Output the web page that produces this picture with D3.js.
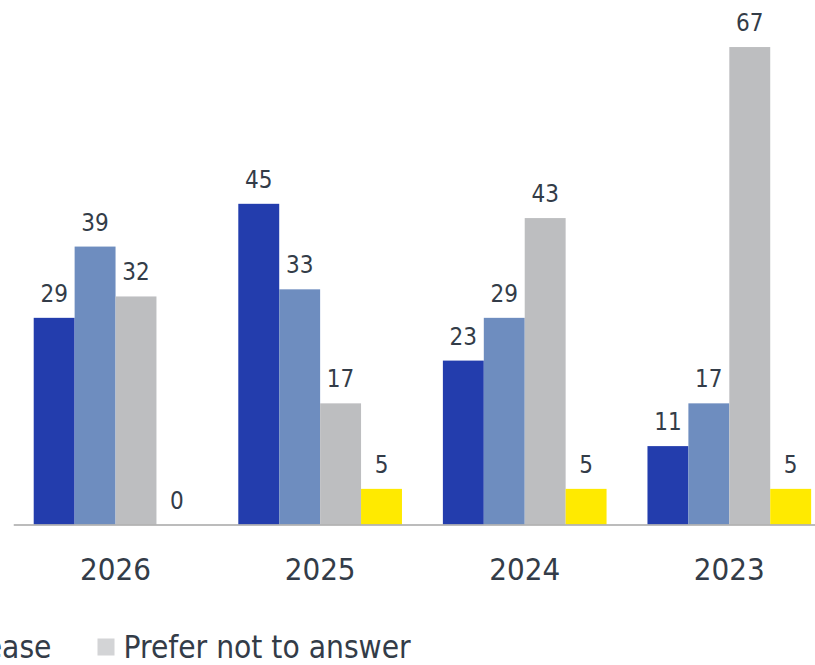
<!DOCTYPE html>
<html>
<head>
<meta charset="utf-8">
<script src="https://cdn.jsdelivr.net/npm/d3@7"></script>
<style>
  html, body { margin: 0; padding: 0; background: #ffffff; overflow: hidden; }
  svg { display: block; }
</style>
</head>
<body>
<svg id="chart" width="815" height="665"></svg>
<script>
const years = ["2026", "2025", "2024", "2023"];
const seriesNames = ["Increase", "No change", "Prefer not to answer", "Decrease"];
const increase = [29, 45, 23, 11];
const noChange = [39, 33, 29, 17];
const preferNot = [32, 17, 43, 67];
const decrease = [0, 5, 5, 5];
const legendOrder = ["Increase", "No change", "Decrease", "Prefer not to answer"];

const colors = {
  "Increase": "#233dad",
  "No change": "#6e8dbf",
  "Prefer not to answer": "#bdbec0",
  "Decrease": "#ffea00"
};
const legendColors = {
  "Increase": "#233dad",
  "No change": "#6e8dbf",
  "Prefer not to answer": "#d3d4d6",
  "Decrease": "#ffea00"
};
const textColor = "#333c48";
const font = "'DejaVu Sans Condensed', 'DejaVu Sans', sans-serif";

const valuesBySeries = {
  "Increase": increase,
  "No change": noChange,
  "Prefer not to answer": preferNot,
  "Decrease": decrease
};

const svg = d3.select("#chart");

const x0 = d3.scaleBand().domain(years).range([13.25, 831.6]).paddingInner(0.2).paddingOuter(0.1);
const x1 = d3.scaleBand().domain(seriesNames).range([0, x0.bandwidth()]).padding(0);
const y = d3.scaleLinear().domain([0, 73.6]).range([524.5, 0]);

const groups = svg.append("g").selectAll("g")
  .data(years)
  .join("g")
  .attr("transform", d => `translate(${x0(d)},0)`);

groups.selectAll("rect")
  .data((yr, i) => seriesNames.map(s => ({ s, v: valuesBySeries[s][i] })))
  .join("rect")
  .attr("x", d => x1(d.s))
  .attr("y", d => y(d.v))
  .attr("width", x1.bandwidth())
  .attr("height", d => y(0) - y(d.v))
  .attr("fill", d => colors[d.s]);

groups.selectAll("text")
  .data((yr, i) => seriesNames.map(s => ({ s, v: valuesBySeries[s][i] })))
  .join("text")
  .attr("x", d => x1(d.s) + x1.bandwidth() / 2)
  .attr("y", d => y(d.v) - 16)
  .attr("text-anchor", "middle")
  .attr("font-family", font)
  .attr("font-size", 24)
  .attr("fill", textColor)
  .text(d => d.v);

// baseline axis
const xAxis = d3.axisBottom(x0).tickSize(0).tickPadding(0);
const axisG = svg.append("g").attr("transform", `translate(0,${y(0)})`).call(xAxis);
axisG.select(".domain").attr("stroke", "#a6a6a6").attr("stroke-width", 1.5);
axisG.selectAll(".tick text")
  .attr("font-family", font)
  .attr("font-size", 31)
  .attr("fill", textColor)
  .attr("dy", null)
  .attr("y", 55);

// legend
const legend = svg.append("g").attr("transform", "translate(0,647)");
const items = legend.selectAll("g").data(legendOrder).join("g");
items.append("rect")
  .attr("width", 17).attr("height", 17).attr("y", -8.5)
  .attr("fill", d => legendColors[d]);
items.append("text")
  .attr("x", 26)
  .attr("y", 0)
  .attr("dy", "0.35em")
  .attr("font-family", font)
  .attr("font-size", 31.4)
  .attr("fill", textColor)
  .text(d => d);

let widths = [];
items.each(function() { widths.push(this.getBBox().width); });
const gap = 46;
const offsets = [];
let acc = 0;
widths.forEach((w, i) => { offsets.push(acc); acc += w + gap; });
const shift = 97.5 - offsets[offsets.length - 1];
items.attr("transform", (d, i) => `translate(${offsets[i] + shift},0)`);
</script>
</body>
</html>
